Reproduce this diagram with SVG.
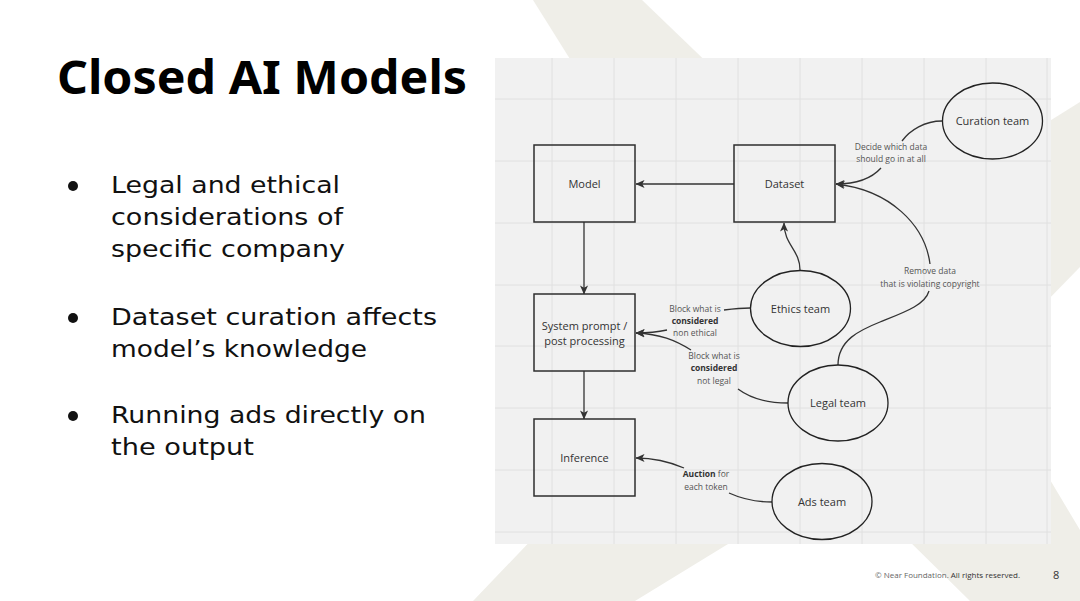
<svg xmlns="http://www.w3.org/2000/svg" width="1080" height="601" viewBox="0 0 1080 601">
  <style>
    .beige { fill: #efeee8; }
    .grid { stroke: #e0e0e0; stroke-width: 1; fill: none; }
    .box { fill: none; stroke: #2e2e2e; stroke-width: 1.5; }
    .ell { fill: none; stroke: #222; stroke-width: 1.3; }
    .ntext { font-family: "Open Sans", "Liberation Sans", sans-serif; font-size: 11px; fill: #333; text-anchor: middle; }
    .lbl { font-family: "Open Sans", "Liberation Sans", sans-serif; font-size: 8.5px; fill: #555; text-anchor: middle; }
    .lbl .b { font-weight: 700; fill: #333; }
    .conn { fill: none; stroke: #333; stroke-width: 1.3; }
    .bullet { font-family: "DejaVu Sans", "Open Sans", sans-serif; font-size: 23.5px; fill: #111; }
    .title { font-family: "Noto Sans", "Liberation Sans", sans-serif; font-size: 47px; font-weight: 700; fill: #000; }
    .foot { font-family: "Open Sans", "Liberation Sans", sans-serif; font-size: 8px; fill: #666; }
  </style>
  <defs>
    <marker id="ah" viewBox="0 0 10 10" refX="9.5" refY="5" markerWidth="9" markerHeight="9" orient="auto" markerUnits="userSpaceOnUse">
      <path d="M0,0.5 L10,5 L0,9.5 L2.5,5 z" fill="#333"/>
    </marker>
  </defs>
  <rect width="1080" height="601" fill="#ffffff"/>
  <!-- background decorative shapes -->
  <g id="background">
    <polygon class="beige" points="533,0 642,0 720,75 580,75"/>
    <polygon class="beige" points="1080,102 1040,127 1040,308 1080,267"/>
    <polygon class="beige" points="1040,463 1080,530 1080,601 970,601 905,537"/>
    <polygon class="beige" points="538,533 746,533 635,601 473,601"/>
  </g>
  <!-- title and bullets -->
  <g id="title">
    <text class="title" x="57" y="94" textLength="410" lengthAdjust="spacingAndGlyphs">Closed AI Models</text>
  </g>
  <g id="bullets">
    <circle cx="73" cy="186" r="5" fill="#111"/>
    <circle cx="73" cy="318" r="5" fill="#111"/>
    <circle cx="73" cy="416" r="5" fill="#111"/>
    <text class="bullet" x="111" y="193" textLength="229" lengthAdjust="spacingAndGlyphs">Legal and ethical</text>
    <text class="bullet" x="111" y="225" textLength="232" lengthAdjust="spacingAndGlyphs">considerations of</text>
    <text class="bullet" x="111" y="257" textLength="234" lengthAdjust="spacingAndGlyphs">specific company</text>
    <text class="bullet" x="111" y="325" textLength="326" lengthAdjust="spacingAndGlyphs">Dataset curation affects</text>
    <text class="bullet" x="111" y="357" textLength="256" lengthAdjust="spacingAndGlyphs">model’s knowledge</text>
    <text class="bullet" x="111" y="423" textLength="315" lengthAdjust="spacingAndGlyphs">Running ads directly on</text>
    <text class="bullet" x="111" y="455" textLength="143" lengthAdjust="spacingAndGlyphs">the output</text>
  </g>
  <!-- diagram panel -->
  <g id="panel">
    <rect x="495" y="58" width="556" height="486" fill="#f1f1f1"/>
    <path class="grid" d="M552,58V544 M614,58V544 M676,58V544 M738,58V544 M800,58V544 M862,58V544 M924,58V544 M986,58V544 M1047,58V544 M495,99H1051 M495,161H1051 M495,223H1051 M495,285H1051 M495,346H1051 M495,408H1051 M495,470H1051 M495,532H1051"/>
  </g>
  <!-- connectors -->
  <g id="connectors">
    <path class="conn" d="M734,184 L636,184" marker-end="url(#ah)"/>
    <path class="conn" d="M584,222 L584,294" marker-end="url(#ah)"/>
    <path class="conn" d="M584,371 L584,419" marker-end="url(#ah)"/>
    <!-- curation -> dataset -->
    <path class="conn" d="M942,121 C925,121 910,130 902,141"/>
    <path class="conn" d="M881,168 C872,178 858,184 836,184" marker-end="url(#ah)"/>
    <!-- legal -> dataset -->
    <path class="conn" d="M838,365 C838,340 860,330 880,322 C905,312 925,305 929,291"/>
    <path class="conn" d="M930,264 C925,225 890,190 836,184" marker-end="url(#ah)"/>
    <!-- ethics -> dataset -->
    <path class="conn" d="M800,270 C800,250 784,245 784,223" marker-end="url(#ah)"/>
    <!-- ethics -> system prompt -->
    <path class="conn" d="M750,308 C740,308 732,309 724,310"/>
    <path class="conn" d="M667,330 C658,332 648,333 636,333" marker-end="url(#ah)"/>
    <!-- legal -> system prompt -->
    <path class="conn" d="M788,403 C765,403 750,398 738,389"/>
    <path class="conn" d="M691,350 C675,340 660,334 636,333" marker-end="url(#ah)"/>
    <!-- ads -> inference -->
    <path class="conn" d="M772,502 C755,502 740,498 729,493"/>
    <path class="conn" d="M684,468 C670,462 655,458 636,458" marker-end="url(#ah)"/>
  </g>
  <!-- connector labels -->
  <g id="labels">
    <text class="lbl" x="891" y="150">Decide which data</text>
    <text class="lbl" x="891" y="162">should go in at all</text>
    <text class="lbl" x="930" y="274">Remove data</text>
    <text class="lbl" x="930" y="287">that is violating copyright</text>
    <text class="lbl" x="695" y="312">Block what is</text>
    <text class="lbl" x="695" y="324"><tspan class="b">considered</tspan></text>
    <text class="lbl" x="695" y="336">non ethical</text>
    <text class="lbl" x="714" y="359">Block what is</text>
    <text class="lbl" x="714" y="371"><tspan class="b">considered</tspan></text>
    <text class="lbl" x="714" y="384">not legal</text>
    <text class="lbl" x="706" y="477"><tspan class="b">Auction</tspan> for</text>
    <text class="lbl" x="706" y="490">each token</text>
  </g>
  <!-- nodes -->
  <g id="node-model">
    <rect class="box" x="534" y="145" width="101" height="77"/>
    <text class="ntext" x="584.5" y="188">Model</text>
  </g>
  <g id="node-dataset">
    <rect class="box" x="734" y="145" width="101" height="77"/>
    <text class="ntext" x="784.5" y="188">Dataset</text>
  </g>
  <g id="node-system">
    <rect class="box" x="534" y="294" width="101" height="77"/>
    <text class="ntext" x="584.5" y="330">System prompt /</text>
    <text class="ntext" x="584.5" y="345">post processing</text>
  </g>
  <g id="node-inference">
    <rect class="box" x="534" y="419" width="101" height="77"/>
    <text class="ntext" x="584.5" y="462">Inference</text>
  </g>
  <g id="node-curation">
    <ellipse class="ell" cx="992.5" cy="121" rx="50" ry="38"/>
    <text class="ntext" x="992.5" y="125">Curation team</text>
  </g>
  <g id="node-ethics">
    <ellipse class="ell" cx="800.5" cy="308.5" rx="50" ry="38"/>
    <text class="ntext" x="800.5" y="312.5">Ethics team</text>
  </g>
  <g id="node-legal">
    <ellipse class="ell" cx="838" cy="403" rx="50" ry="38"/>
    <text class="ntext" x="838" y="407">Legal team</text>
  </g>
  <g id="node-ads">
    <ellipse class="ell" cx="822" cy="501.5" rx="50" ry="38"/>
    <text class="ntext" x="822" y="505.5">Ads team</text>
  </g>
  <!-- footer -->
  <g id="footer">
    <text class="foot" x="875" y="578" textLength="145" lengthAdjust="spacingAndGlyphs">© Near Foundation. <tspan fill="#333">All rights reserved.</tspan></text>
    <text x="1053" y="579" font-family="Open Sans, Liberation Sans, sans-serif" font-size="11" fill="#333">8</text>
  </g>
</svg>
